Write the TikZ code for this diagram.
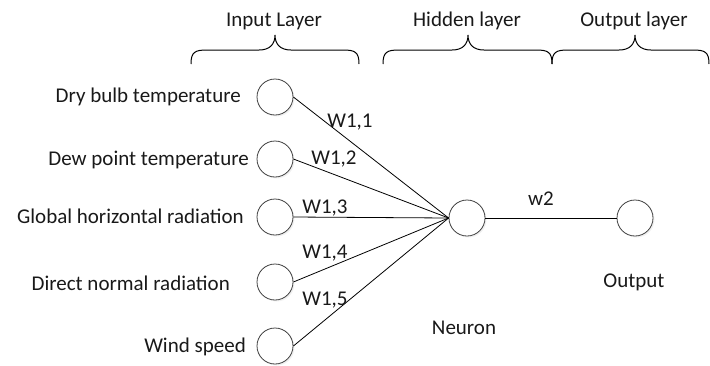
\documentclass[tikz,border=0pt]{standalone}
\usepackage{fontspec}
\setmainfont{Carlito}
\usetikzlibrary{shadows}
\begin{document}
\begin{tikzpicture}[x=1pt,y=-1pt,
  every node/.style={font=\fontsize{21}{25}\selectfont, text=black!90, inner sep=0pt},
  neuron/.style={circle, draw=black!75, line width=0.8pt, fill=white, minimum size=36pt,
    drop shadow={opacity=0.12, shadow xshift=1.5pt, shadow yshift=-1.5pt}},
  conn/.style={draw=black, line width=0.8pt},
  bracestyle/.style={draw=black, line width=1pt}]
\useasboundingbox (0,0) rectangle (710,365);
% input neurons
\node[neuron] (i1) at (275,97) {};
\node[neuron] (i2) at (275,159) {};
\node[neuron] (i3) at (275,217) {};
\node[neuron] (i4) at (275,282) {};
\node[neuron] (i5) at (275,346) {};
\node[neuron] (h) at (467,218) {};
\node[neuron] (o) at (635,218) {};
% input labels
\node[anchor=east] (l1) at (241,97) {Dry bulb temperature};
\node[anchor=east] (l2) at (249,160) {Dew point temperature};
\node[anchor=east] (l3) at (244,216) {Global horizontal radiation};
\node[anchor=east] (l4) at (230,283) {Direct normal radiation};
\node[anchor=east] (l5) at (246,347) {Wind speed};
% connections
\foreach \i in {1,...,5} \draw[conn] (i\i.east) -- (h.west);
\draw[conn] (h.east) -- (o.west);
% weights
\node (w1) at (350,122) {W1,1};
\node (w2) at (334,159) {W1,2};
\node (w3) at (325,208) {W1,3};
\node (w4) at (325,253) {W1,4};
\node (w5) at (325,300) {W1,5};
\node (w6) at (541,199) {w2};
\node (nl) at (464,328) {Neuron};
\node (ol) at (634,282) {Output};
% layer labels
\node (t1) at (274,21) {Input Layer};
\node (t2) at (467,21) {Hidden layer};
\node (t3) at (634,21) {Output layer};
% braces
\draw[bracestyle] (191,64) .. controls (191,52) and (195,50) .. (207,50) -- (259,50)
  .. controls (270,50) and (275,44) .. (275,35)
  .. controls (275,44) and (280,50) .. (291,50) -- (343,50)
  .. controls (355,50) and (359,52) .. (359,64);
\draw[bracestyle] (383,64) .. controls (383,52) and (387,50) .. (399,50) -- (452,50)
  .. controls (463,50) and (468,44) .. (468,35)
  .. controls (468,44) and (473,50) .. (484,50) -- (536,50)
  .. controls (548,50) and (552,52) .. (552,64);
\draw[bracestyle] (552,64) .. controls (552,52) and (556,50) .. (568,50) -- (619,50)
  .. controls (630,50) and (635,44) .. (635,35)
  .. controls (635,44) and (640,50) .. (651,50) -- (693,50)
  .. controls (705,50) and (709,52) .. (709,64);
\end{tikzpicture}
\end{document}
